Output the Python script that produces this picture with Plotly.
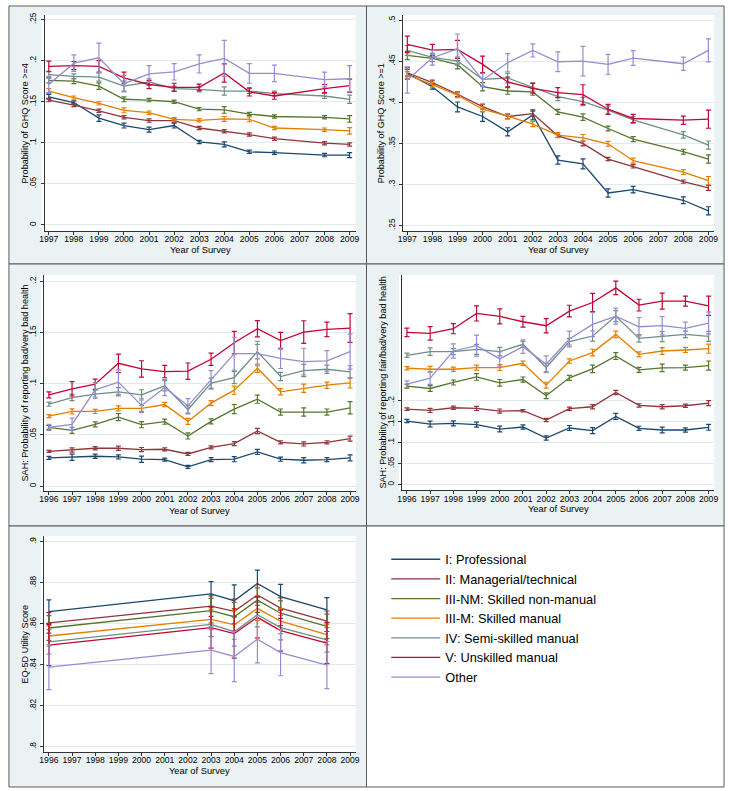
import plotly.graph_objects as go

W, H = 733, 791

class_names = ["I: Professional", "II: Managerial/technical", "III-NM: Skilled non-manual",
               "III-M: Skilled manual", "IV: Semi-skilled manual", "V: Unskilled manual", "Other"]
class_colors = ["#1A476F", "#90353B", "#55752F", "#E37E00", "#6E8E84", "#C10534", "#938DD2"]

# ---------------- Panel 1: GHQ >= 4 ----------------
ghq4_years = [1997, 1998, 1999, 2000, 2001, 2002, 2003, 2004, 2005, 2006, 2008, 2009]
ghq4_I = [0.156, 0.149, 0.130, 0.121, 0.116, 0.121, 0.101, 0.098, 0.089, 0.088, 0.085, 0.085]
ghq4_I_err = [0.003, 0.002, 0.004, 0.003, 0.003, 0.003, 0.002, 0.003, 0.002, 0.002, 0.002, 0.003]
ghq4_II = [0.152, 0.146, 0.139, 0.131, 0.127, 0.127, 0.118, 0.114, 0.110, 0.105, 0.0995, 0.098]
ghq4_II_err = [0.002, 0.002, 0.002, 0.002, 0.002, 0.002, 0.002, 0.002, 0.002, 0.002, 0.002, 0.002]
ghq4_IIINM = [0.176, 0.175, 0.169, 0.153, 0.152, 0.150, 0.141, 0.140, 0.135, 0.132, 0.131, 0.129]
ghq4_IIINM_err = [0.003, 0.003, 0.004, 0.003, 0.002, 0.002, 0.002, 0.004, 0.002, 0.002, 0.002, 0.004]
ghq4_IIIM = [0.163, 0.155, 0.148, 0.1396, 0.1367, 0.1286, 0.1274, 0.129, 0.1286, 0.118, 0.116, 0.1145]
ghq4_IIIM_err = [0.003, 0.002, 0.002, 0.003, 0.002, 0.002, 0.002, 0.003, 0.003, 0.002, 0.002, 0.004]
ghq4_IV = [0.183, 0.181, 0.180, 0.169, 0.174, 0.166, 0.165, 0.163, 0.163, 0.160, 0.157, 0.153]
ghq4_IV_err = [0.004, 0.003, 0.005, 0.006, 0.004, 0.003, 0.003, 0.005, 0.003, 0.003, 0.003, 0.005]
ghq4_V = [0.193, 0.194, 0.193, 0.179, 0.171, 0.1675, 0.1675, 0.185, 0.162, 0.157, 0.166, 0.1695]
ghq4_V_err = [0.0065, 0.005, 0.007, 0.007, 0.005, 0.005, 0.004, 0.011, 0.005, 0.004, 0.005, 0.008]
ghq4_Oth = [0.171, 0.197, 0.2035, 0.172, 0.184, 0.1865, 0.196, 0.2027, 0.1845, 0.1845, 0.177, 0.178]
ghq4_Oth_err = [0.010, 0.010, 0.018, 0.010, 0.010, 0.010, 0.011, 0.022, 0.012, 0.010, 0.009, 0.016]

# ---------------- Panel 2: GHQ >= 1 ----------------
ghq1_years = [1997, 1998, 1999, 2000, 2001, 2002, 2003, 2004, 2005, 2006, 2008, 2009]
ghq1_I = [0.4353, 0.419, 0.3944, 0.3827, 0.364, 0.3847, 0.3297, 0.325, 0.2896, 0.2937, 0.2807, 0.2678]
ghq1_I_err = [0.007, 0.003, 0.006, 0.006, 0.005, 0.006, 0.005, 0.006, 0.005, 0.004, 0.004, 0.005]
ghq1_II = [0.436, 0.424, 0.4098, 0.3948, 0.3827, 0.3863, 0.3592, 0.3499, 0.3309, 0.322, 0.3034, 0.2957]
ghq1_II_err = [0.004, 0.003, 0.003, 0.003, 0.003, 0.003, 0.002, 0.003, 0.002, 0.002, 0.002, 0.003]
ghq1_IIINM = [0.4571, 0.4535, 0.4458, 0.419, 0.4138, 0.4126, 0.3883, 0.3819, 0.3681, 0.3552, 0.3398, 0.3309]
ghq1_IIINM_err = [0.005, 0.004, 0.005, 0.005, 0.004, 0.004, 0.003, 0.004, 0.003, 0.003, 0.003, 0.005]
ghq1_IIIM = [0.4333, 0.4215, 0.4086, 0.3916, 0.3831, 0.3734, 0.36, 0.3568, 0.3495, 0.3289, 0.3151, 0.3046]
ghq1_IIIM_err = [0.004, 0.003, 0.003, 0.003, 0.003, 0.003, 0.003, 0.004, 0.003, 0.003, 0.003, 0.005]
ghq1_IV = [0.4632, 0.4547, 0.4502, 0.428, 0.4296, 0.4187, 0.407, 0.4009, 0.3904, 0.3786, 0.3604, 0.3479]
ghq1_IV_err = [0.006, 0.005, 0.005, 0.008, 0.006, 0.005, 0.005, 0.005, 0.005, 0.004, 0.004, 0.005]
ghq1_V = [0.4705, 0.4636, 0.4644, 0.4462, 0.4248, 0.4171, 0.4118, 0.4094, 0.3916, 0.3803, 0.3782, 0.3794]
ghq1_V_err = [0.010, 0.007, 0.011, 0.010, 0.006, 0.006, 0.006, 0.012, 0.006, 0.005, 0.005, 0.011]
ghq1_Oth = [0.4272, 0.4543, 0.4652, 0.4272, 0.4482, 0.4632, 0.4494, 0.4502, 0.4462, 0.4539, 0.447, 0.4632]
ghq1_Oth_err = [0.016, 0.009, 0.018, 0.008, 0.011, 0.008, 0.012, 0.018, 0.012, 0.009, 0.008, 0.014]

# ---------------- Panel 3: SAH bad/very bad ----------------
sahb_years = list(range(1996, 2010))
sahb_I = [0.0276, 0.0282, 0.0292, 0.0285, 0.0263, 0.0259, 0.0188, 0.0259, 0.0263, 0.0334, 0.0263, 0.0253, 0.0259, 0.0276]
sahb_I_err = [0.0015, 0.003, 0.002, 0.002, 0.003, 0.0015, 0.0015, 0.002, 0.0025, 0.0025, 0.002, 0.0025, 0.002, 0.003]
sahb_II = [0.034, 0.0353, 0.037, 0.037, 0.0357, 0.036, 0.0314, 0.0379, 0.0415, 0.0538, 0.0428, 0.0412, 0.0428, 0.0464]
sahb_II_err = [0.001, 0.002, 0.0015, 0.002, 0.002, 0.0015, 0.0015, 0.0015, 0.002, 0.0025, 0.0015, 0.002, 0.0015, 0.0025]
sahb_IIINM = [0.0574, 0.0545, 0.0603, 0.0674, 0.06, 0.0629, 0.049, 0.0632, 0.0752, 0.0849, 0.0723, 0.0723, 0.0723, 0.0765]
sahb_IIINM_err = [0.002, 0.003, 0.0025, 0.0035, 0.003, 0.0025, 0.003, 0.0025, 0.0045, 0.004, 0.003, 0.004, 0.003, 0.006]
sahb_IIIM = [0.0684, 0.0729, 0.0729, 0.0759, 0.0759, 0.0797, 0.0632, 0.081, 0.0937, 0.1151, 0.0921, 0.0956, 0.0985, 0.1008]
sahb_IIIM_err = [0.0015, 0.0025, 0.002, 0.0025, 0.003, 0.002, 0.003, 0.0025, 0.004, 0.004, 0.003, 0.004, 0.003, 0.005]
sahb_IV = [0.080, 0.0865, 0.0898, 0.0921, 0.0891, 0.0979, 0.0746, 0.1005, 0.106, 0.1313, 0.107, 0.1128, 0.1141, 0.1115]
sahb_IV_err = [0.002, 0.003, 0.004, 0.004, 0.005, 0.005, 0.004, 0.005, 0.006, 0.007, 0.004, 0.006, 0.004, 0.006]
sahb_V = [0.0891, 0.095, 0.0995, 0.1199, 0.1144, 0.1118, 0.1122, 0.1238, 0.14, 0.1536, 0.142, 0.1504, 0.153, 0.1543]
sahb_V_err = [0.003, 0.007, 0.005, 0.009, 0.008, 0.006, 0.008, 0.006, 0.011, 0.008, 0.008, 0.011, 0.007, 0.014]
sahb_Oth = [0.0574, 0.0603, 0.094, 0.1015, 0.0788, 0.0963, 0.0784, 0.1037, 0.1293, 0.1293, 0.1248, 0.1216, 0.1222, 0.1313]
sahb_Oth_err = [0.003, 0.006, 0.007, 0.012, 0.007, 0.008, 0.007, 0.009, 0.016, 0.012, 0.010, 0.013, 0.010, 0.017]

# ---------------- Panel 4: SAH fair/bad/very bad ----------------
sahf_years = list(range(1996, 2010))
sahf_I = [0.1516, 0.1444, 0.146, 0.1429, 0.1325, 0.1373, 0.1111, 0.1349, 0.1286, 0.1627, 0.1341, 0.1302, 0.1302, 0.1365]
sahf_I_err = [0.004, 0.007, 0.006, 0.006, 0.007, 0.005, 0.005, 0.006, 0.007, 0.007, 0.005, 0.007, 0.005, 0.007]
sahf_II = [0.1802, 0.177, 0.1833, 0.1817, 0.1754, 0.1762, 0.154, 0.181, 0.1857, 0.2198, 0.1889, 0.1857, 0.1881, 0.1944]
sahf_II_err = [0.003, 0.005, 0.004, 0.005, 0.005, 0.003, 0.004, 0.004, 0.005, 0.005, 0.004, 0.005, 0.004, 0.006]
sahf_IIINM = [0.2349, 0.2294, 0.2437, 0.2571, 0.2429, 0.2508, 0.2119, 0.2548, 0.2762, 0.3071, 0.2738, 0.2786, 0.2794, 0.2841]
sahf_IIINM_err = [0.005, 0.007, 0.006, 0.008, 0.008, 0.006, 0.007, 0.006, 0.009, 0.008, 0.006, 0.009, 0.006, 0.011]
sahf_IIIM = [0.2778, 0.2754, 0.2754, 0.2794, 0.2794, 0.2897, 0.2373, 0.2952, 0.3151, 0.3587, 0.3111, 0.319, 0.3214, 0.3246]
sahf_IIIM_err = [0.004, 0.007, 0.005, 0.006, 0.007, 0.005, 0.007, 0.005, 0.008, 0.008, 0.006, 0.008, 0.006, 0.011]
sahf_IV = [0.3087, 0.3175, 0.3175, 0.323, 0.3175, 0.3349, 0.2794, 0.3413, 0.3548, 0.4024, 0.3492, 0.3532, 0.3587, 0.354]
sahf_IV_err = [0.005, 0.009, 0.007, 0.012, 0.010, 0.007, 0.010, 0.008, 0.012, 0.013, 0.009, 0.012, 0.008, 0.012]
sahf_V = [0.3635, 0.3611, 0.3722, 0.4087, 0.4016, 0.3889, 0.3794, 0.4143, 0.4349, 0.4698, 0.4286, 0.4381, 0.4381, 0.427]
sahf_V_err = [0.010, 0.016, 0.012, 0.018, 0.018, 0.013, 0.017, 0.014, 0.022, 0.016, 0.014, 0.019, 0.012, 0.023]
sahf_Oth = [0.2397, 0.254, 0.319, 0.3317, 0.300, 0.3294, 0.2873, 0.3476, 0.3825, 0.4024, 0.377, 0.3794, 0.373, 0.3857]
sahf_Oth_err = [0.008, 0.015, 0.017, 0.025, 0.017, 0.016, 0.020, 0.019, 0.029, 0.019, 0.022, 0.022, 0.015, 0.026]

# ---------------- Panel 5: EQ-5D ----------------
eq_years = [1996, 2003, 2004, 2005, 2006, 2008]
eq_I = [0.866, 0.8746, 0.8713, 0.8797, 0.8733, 0.8668]
eq_I_err = [0.0057, 0.006, 0.0077, 0.0065, 0.006, 0.006]
eq_II = [0.8605, 0.8687, 0.8661, 0.8741, 0.8677, 0.8613]
eq_II_err = [0.005, 0.005, 0.006, 0.005, 0.005, 0.005]
eq_IIINM = [0.858, 0.8665, 0.8635, 0.8716, 0.8652, 0.8588]
eq_IIINM_err = [0.006, 0.006, 0.007, 0.006, 0.006, 0.006]
eq_IIIM = [0.8541, 0.8622, 0.8595, 0.8676, 0.8613, 0.8548]
eq_IIIM_err = [0.005, 0.005, 0.007, 0.006, 0.006, 0.005]
eq_IV = [0.8512, 0.8598, 0.8562, 0.8645, 0.8582, 0.8522]
eq_IV_err = [0.006, 0.006, 0.007, 0.006, 0.006, 0.006]
eq_V = [0.8496, 0.8582, 0.8553, 0.8632, 0.8567, 0.8506]
eq_V_err = [0.010, 0.010, 0.012, 0.010, 0.010, 0.010]
eq_Oth = [0.8389, 0.8472, 0.8441, 0.8525, 0.846, 0.8399]
eq_Oth_err = [0.011, 0.0115, 0.0123, 0.0115, 0.0113, 0.0115]

# tick labels
ticks_ghq4 = [0, 0.05, 0.1, 0.15, 0.2, 0.25]
labels_ghq4 = ["0", ".05", ".1", ".15", ".2", ".25"]
ticks_ghq1 = [0.25, 0.3, 0.35, 0.4, 0.45, 0.5]
labels_ghq1 = [".25", ".3", ".35", ".4", ".45", ".5"]
ticks_sah = [0, 0.05, 0.1, 0.15, 0.2]
labels_sah = ["0", ".05", ".1", ".15", ".2"]
ticks_eq = [0.8, 0.82, 0.84, 0.86, 0.88, 0.9]
labels_eq = [".8", ".82", ".84", ".86", ".88", ".9"]
years_9709 = list(range(1997, 2010))
years_9609 = list(range(1996, 2010))


def px_x(p):
    return p / W


def px_y(p):
    return 1 - p / H


panels = [
    dict(years=ghq4_years,
         vals=[ghq4_I, ghq4_II, ghq4_IIINM, ghq4_IIIM, ghq4_IV, ghq4_V, ghq4_Oth],
         errs=[ghq4_I_err, ghq4_II_err, ghq4_IIINM_err, ghq4_IIIM_err, ghq4_IV_err, ghq4_V_err, ghq4_Oth_err],
         xd=(40, 355), yd=(12, 229), xr=(1996.83, 2009.24), yr=(-0.0076, 0.2557),
         xt=years_9709, yt=ticks_ghq4, ytl=labels_ghq4,
         ytitle="Probability of GHQ Score >=4", ytx=20.7, xty=248.3),
    dict(years=ghq1_years,
         vals=[ghq1_I, ghq1_II, ghq1_IIINM, ghq1_IIIM, ghq1_IV, ghq1_V, ghq1_Oth],
         errs=[ghq1_I_err, ghq1_II_err, ghq1_IIINM_err, ghq1_IIIM_err, ghq1_IV_err, ghq1_V_err, ghq1_Oth_err],
         xd=(403, 718), yd=(12, 229), xr=(1996.83, 2009.23), yr=(0.2431, 0.5064),
         xt=years_9709, yt=ticks_ghq1, ytl=labels_ghq1,
         ytitle="Probability of GHQ Score >=1", ytx=381, xty=248.3),
    dict(years=sahb_years,
         vals=[sahb_I, sahb_II, sahb_IIINM, sahb_IIIM, sahb_IV, sahb_V, sahb_Oth],
         errs=[sahb_I_err, sahb_II_err, sahb_IIINM_err, sahb_IIIM_err, sahb_IV_err, sahb_V_err, sahb_Oth_err],
         xd=(39.5, 355), yd=(273, 490), xr=(1995.79, 2009.24), yr=(-0.00486, 0.2061),
         xt=years_9609, yt=ticks_sah, ytl=labels_sah,
         ytitle="SAH: Probability of reporting bad/very bad health", ytx=20.7, xty=510),
    dict(years=sahf_years,
         vals=[sahf_I, sahf_II, sahf_IIINM, sahf_IIIM, sahf_IV, sahf_V, sahf_Oth],
         errs=[sahf_I_err, sahf_II_err, sahf_IIINM_err, sahf_IIIM_err, sahf_IV_err, sahf_V_err, sahf_Oth_err],
         xd=(402, 718), yd=(273, 489.3), xr=(1995.79, 2009.24), yr=(-0.0143, 0.5007),
         xt=years_9609, yt=ticks_sah, ytl=labels_sah,
         ytitle="SAH: Probability of reporting fair/bad/very bad health", ytx=382.5, xty=508.3),
    dict(years=eq_years,
         vals=[eq_I, eq_II, eq_IIINM, eq_IIIM, eq_IV, eq_V, eq_Oth],
         errs=[eq_I_err, eq_II_err, eq_IIINM_err, eq_IIIM_err, eq_IV_err, eq_V_err, eq_Oth_err],
         xd=(39.5, 355), yd=(535, 751.7), xr=(1995.79, 2009.24), yr=(0.79757, 0.9029),
         xt=years_9609, yt=ticks_eq, ytl=labels_eq,
         ytitle="EQ-5D Utility Score", ytx=20, xty=770.7),
]

FONT = "Liberation Sans, Arial, Helvetica, sans-serif"
BG = "#EAF2F3"
GRID = "#E2EAEC"

fig = go.Figure()
layout = dict(
    width=W, height=H, autosize=False,
    margin=dict(l=0, r=0, t=0, b=0),
    paper_bgcolor="white", plot_bgcolor="white",
    font=dict(family=FONT, color="#000"),
    showlegend=True,
    legend=dict(x=px_x(386), y=px_y(543.5), xanchor="left", yanchor="top",
                bgcolor="rgba(0,0,0,0)", borderwidth=0, itemwidth=49,
                tracegroupgap=0, font=dict(size=12.8, family=FONT, color="#000"),
                itemclick=False, itemdoubleclick=False),
)

shapes = []
annotations = []

# cell backgrounds and borders
cells = [(4, 3, 366, 262, BG), (366, 3, 728, 262, BG), (4, 262, 366, 525, BG),
         (366, 262, 728, 525, BG), (4, 525, 366, 787, BG), (366, 525, 728, 787, "white")]
for (x0, y0, x1, y1, c) in cells:
    shapes.append(dict(type="rect", xref="paper", yref="paper", x0=px_x(x0), x1=px_x(x1),
                       y0=px_y(y1), y1=px_y(y0), fillcolor=c, line=dict(color="#5A5A5A", width=1),
                       layer="below"))

for k, p in enumerate(panels):
    ax = "" if k == 0 else str(k + 1)
    # white plot region (slightly wider than axis, like Stata)
    shapes.append(dict(type="rect", xref="paper", yref="paper",
                       x0=px_x(p["xd"][0] - 3), x1=px_x(p["xd"][1]),
                       y0=px_y(p["yd"][1]), y1=px_y(p["yd"][0]),
                       fillcolor="white", line=dict(width=0), layer="below"))
    for i in range(7):
        fig.add_trace(go.Scatter(
            x=p["years"], y=p["vals"][i], mode="lines",
            line=dict(color=class_colors[i], width=1.3),
            error_y=dict(type="data", array=p["errs"][i], visible=True,
                         color=class_colors[i], thickness=1.2, width=2.5),
            name=class_names[i], showlegend=(k == 0),
            xaxis="x" + ax, yaxis="y" + ax, hoverinfo="skip"))
    layout["xaxis" + ax] = dict(
        domain=[px_x(p["xd"][0]), px_x(p["xd"][1])], range=list(p["xr"]),
        anchor="y" + ax, tickmode="array", tickvals=p["xt"], ticktext=[str(v) for v in p["xt"]],
        ticks="outside", ticklen=3, tickwidth=1, tickcolor="#333",
        showline=True, linecolor="#333", linewidth=1, showgrid=False, zeroline=False,
        ticklabelstandoff=-3,
        tickfont=dict(size=8.6, family=FONT, color="#000"), fixedrange=True)
    layout["yaxis" + ax] = dict(
        domain=[px_y(p["yd"][1]), px_y(p["yd"][0])], range=list(p["yr"]),
        anchor="x" + ax, tickmode="array", tickvals=p["yt"], ticktext=p["ytl"],
        tickangle=-90, ticks="outside", ticklen=3, tickwidth=1, tickcolor="#333",
        showline=True, linecolor="#333", linewidth=1, showgrid=True, gridcolor=GRID,
        gridwidth=1, zeroline=False, ticklabelstandoff=1,
        tickfont=dict(size=8.2, family=FONT, color="#000"), fixedrange=True)
    # axis titles
    annotations.append(dict(text=p["ytitle"], xref="paper", yref="paper",
                            x=px_x(p["ytx"]), y=px_y((p["yd"][0] + p["yd"][1]) / 2),
                            xanchor="center", yanchor="middle", textangle=-90, showarrow=False,
                            font=dict(size=9.1, family=FONT, color="#000")))
    annotations.append(dict(text="Year of Survey", xref="paper", yref="paper",
                            x=px_x((p["xd"][0] + p["xd"][1]) / 2), y=px_y(p["xty"]),
                            xanchor="center", yanchor="middle", showarrow=False,
                            font=dict(size=9.3, family=FONT, color="#000")))

layout["shapes"] = shapes
layout["annotations"] = annotations
fig.update_layout(**layout)
fig.write_html("out.html", config={"displayModeBar": False},
               post_script="document.body.style.margin='0';document.body.style.overflow='hidden';")
